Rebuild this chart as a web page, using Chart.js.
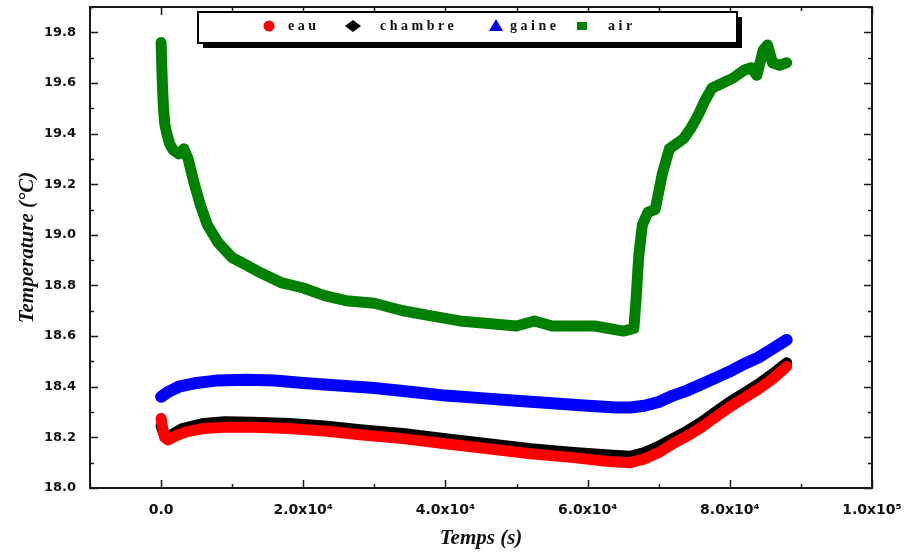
<!DOCTYPE html>
<html>
<head>
<meta charset="utf-8">
<title>Temperature</title>
<script src="https://cdn.jsdelivr.net/npm/chart.js@4.4.1/dist/chart.umd.min.js"></script>
<style>
  html, body { margin: 0; padding: 0; background: #fff; }
  canvas { display: block; }
</style>
</head>
<body>
<canvas id="temp-chart" width="904" height="555"></canvas>
<script>
// --- Series data (time in s, temperature in °C) ---
const seriesNames = ['eau', 'chambre', 'gaine', 'air'];
const seriesColors = ['#ff0000', '#000000', '#0000ff', '#008000'];

const eauTime = [0, 200, 500, 1000, 2000, 3500, 6000, 9000, 13000, 18000, 23000, 28000, 34000, 40000, 46000, 52000, 58000, 63000, 66000, 68000, 70000, 72000, 74000, 76000, 78000, 80000, 82000, 84000, 86000, 88000];
const eauTemp = [18.275, 18.24, 18.20, 18.19, 18.205, 18.222, 18.235, 18.24, 18.24, 18.235, 18.225, 18.21, 18.195, 18.175, 18.155, 18.135, 18.12, 18.105, 18.10, 18.115, 18.14, 18.175, 18.205, 18.24, 18.28, 18.32, 18.355, 18.39, 18.43, 18.48];

const chambreTime = [0, 300, 800, 1500, 3000, 6000, 9000, 13000, 18000, 23000, 28000, 34000, 40000, 46000, 52000, 58000, 63000, 66000, 68000, 70000, 72000, 74000, 76000, 78000, 80000, 82000, 84000, 86000, 88000];
const chambreTemp = [18.245, 18.22, 18.195, 18.21, 18.235, 18.255, 18.262, 18.26, 18.255, 18.245, 18.23, 18.215, 18.195, 18.175, 18.155, 18.14, 18.13, 18.125, 18.14, 18.165, 18.195, 18.225, 18.26, 18.30, 18.34, 18.375, 18.41, 18.45, 18.495];

const gaineTime = [0, 1000, 2500, 5000, 8000, 12000, 16000, 20000, 25000, 30000, 35000, 40000, 45000, 50000, 55000, 60000, 64000, 66000, 68000, 70000, 72000, 74000, 76000, 78000, 80000, 82000, 84000, 86000, 88000];
const gaineTemp = [18.36, 18.38, 18.40, 18.415, 18.425, 18.428, 18.425, 18.415, 18.405, 18.395, 18.38, 18.365, 18.355, 18.345, 18.335, 18.325, 18.318, 18.318, 18.325, 18.34, 18.365, 18.385, 18.41, 18.435, 18.46, 18.49, 18.515, 18.55, 18.585];

const airTime = [0, 150, 300, 500, 800, 1200, 1700, 2500, 3200, 3800, 4500, 5500, 6500, 8000, 10000, 12000, 14000, 17000, 20000, 23000, 26000, 30000, 34000, 38000, 42000, 46000, 50000, 52500, 55000, 58000, 61000, 63000, 65000, 66500, 66800, 67200, 67700, 68500, 69500, 70500, 71500, 72500, 73500, 74500, 75500, 76500, 77500, 79000, 80500, 82000, 83000, 83800, 84700, 85300, 86000, 87000, 88000];
const airTemp = [19.76, 19.62, 19.52, 19.44, 19.40, 19.36, 19.335, 19.32, 19.34, 19.30, 19.22, 19.12, 19.04, 18.97, 18.91, 18.88, 18.85, 18.81, 18.79, 18.76, 18.74, 18.73, 18.70, 18.68, 18.66, 18.65, 18.64, 18.66, 18.64, 18.64, 18.64, 18.63, 18.62, 18.63, 18.74, 18.92, 19.04, 19.09, 19.10, 19.24, 19.34, 19.36, 19.38, 19.42, 19.47, 19.53, 19.58, 19.60, 19.62, 19.65, 19.66, 19.63, 19.73, 19.75, 19.68, 19.67, 19.68];

// --- Axis ticks ---
const xTickValues = [0, 20000, 40000, 60000, 80000, 100000];
const xTickLabels = ['0.0', '2.0x10\u2074', '4.0x10\u2074', '6.0x10\u2074', '8.0x10\u2074', '1.0x10\u2075'];
const xMinorValues = [-10000, 10000, 30000, 50000, 70000, 90000];
const yTickValues = [18.0, 18.2, 18.4, 18.6, 18.8, 19.0, 19.2, 19.4, 19.6, 19.8];
const yTickLabels = ['18.0', '18.2', '18.4', '18.6', '18.8', '19.0', '19.2', '19.4', '19.6', '19.8'];
const yMinorValues = [18.1, 18.3, 18.5, 18.7, 18.9, 19.1, 19.3, 19.5, 19.7, 19.9];

const toPoints = (times, temps) => times.map((t, i) => ({ x: t, y: temps[i] }));

const seriesData = [
    toPoints(eauTime, eauTemp),
    toPoints(chambreTime, chambreTemp),
    toPoints(gaineTime, gaineTemp),
    toPoints(airTime, airTemp)
];
const lineWidths = [11, 11, 12, 11];

// Frame around the plot area with inward ticks on all four sides
const framePlugin = {
    id: 'frame',
    afterDatasetsDraw(chart) {
        const { ctx, chartArea: a, scales } = chart;
        const xs = scales.x, ys = scales.y;
        ctx.save();
        ctx.strokeStyle = '#1a1a1a';
        ctx.lineWidth = 1.5;
        ctx.beginPath();
        const tick = (vals, len) => {
            vals.forEach(v => {
                const px = Math.round(xs.getPixelForValue(v)) + 0.5;
                ctx.moveTo(px, a.bottom); ctx.lineTo(px, a.bottom - len);
                ctx.moveTo(px, a.top); ctx.lineTo(px, a.top + len);
            });
        };
        const tickY = (vals, len) => {
            vals.forEach(v => {
                const py = Math.round(ys.getPixelForValue(v)) + 0.5;
                ctx.moveTo(a.left, py); ctx.lineTo(a.left + len, py);
                ctx.moveTo(a.right, py); ctx.lineTo(a.right - len, py);
            });
        };
        tick(xTickValues, 8);
        tick(xMinorValues, 4);
        tickY(yTickValues, 8);
        tickY(yMinorValues, 4);
        ctx.stroke();
        ctx.lineWidth = 2;
        ctx.strokeRect(a.left, a.top, a.right - a.left, a.bottom - a.top);
        ctx.restore();
    }
};

// Boxed legend with drop shadow, sitting inside the plot area
const boxLegendPlugin = {
    id: 'boxLegend',
    afterDraw(chart) {
        const { ctx } = chart;
        const box = { x: 198, y: 12, w: 539, h: 31 };
        ctx.save();
        ctx.fillStyle = '#000';
        ctx.fillRect(box.x + 5, box.y + 5, box.w, box.h);
        ctx.fillStyle = '#fff';
        ctx.fillRect(box.x, box.y, box.w, box.h);
        ctx.strokeStyle = '#000';
        ctx.lineWidth = 2;
        ctx.strokeRect(box.x, box.y, box.w, box.h);

        const cy = box.y + 14;
        const markerX = [269, 353, 496, 582];
        const textX = [288, 380, 510, 608];
        chart.data.datasets.forEach((ds, i) => {
            const mx = markerX[i];
            ctx.fillStyle = ds.borderColor;
            ctx.beginPath();
            if (i === 0) {
                ctx.arc(mx, cy, 5.5, 0, Math.PI * 2);
            } else if (i === 1) {
                ctx.moveTo(mx - 8, cy); ctx.lineTo(mx - 4, cy - 3); ctx.lineTo(mx, cy - 6);
                ctx.lineTo(mx + 4, cy - 3); ctx.lineTo(mx + 8, cy); ctx.lineTo(mx + 4, cy + 3);
                ctx.lineTo(mx, cy + 6); ctx.lineTo(mx - 4, cy + 3); ctx.closePath();
            } else if (i === 2) {
                ctx.moveTo(mx, cy - 7); ctx.lineTo(mx + 7, cy + 5); ctx.lineTo(mx - 7, cy + 5); ctx.closePath();
            } else {
                ctx.rect(mx - 5, cy - 4, 10, 8);
            }
            ctx.fill();

            ctx.fillStyle = '#111';
            ctx.font = 'bold 14px "Liberation Serif"';
            ctx.letterSpacing = '3.5px';
            ctx.textBaseline = 'middle';
            ctx.textAlign = 'left';
            ctx.fillText(ds.label, textX[i], cy);
        });
        ctx.restore();
    }
};

const ctx = document.getElementById('temp-chart');

new Chart(ctx, {
    type: 'line',
    data: {
        datasets: seriesNames.map((name, i) => ({
            label: name,
            data: seriesData[i],
            borderColor: seriesColors[i],
            backgroundColor: seriesColors[i],
            borderWidth: lineWidths[i],
            borderCapStyle: 'round',
            borderJoinStyle: 'round',
            pointRadius: 0,
            tension: 0,
            fill: false
        }))
    },
    options: {
        responsive: false,
        animation: false,
        devicePixelRatio: 1,
        layout: { padding: { top: 7, right: 32, left: 0, bottom: 0 } },
        plugins: {
            legend: { display: false },
            tooltip: { enabled: false }
        },
        scales: {
            x: {
                type: 'linear',
                min: -10000,
                max: 100000,
                grid: { display: false },
                border: { display: false },
                afterBuildTicks: s => { s.ticks = xTickValues.map(v => ({ value: v })); },
                afterFit: s => { s.height = 67; s.paddingLeft = 0; s.paddingRight = 0; },
                ticks: {
                    autoSkip: false,
                    maxRotation: 0,
                    padding: 6,
                    color: '#111',
                    font: { family: '"DejaVu Sans"', weight: 'bold', size: 14 },
                    callback: v => xTickLabels[xTickValues.indexOf(v)]
                },
                title: {
                    display: true,
                    text: 'Temps (s)',
                    color: '#111',
                    padding: { top: 0, bottom: 4 },
                    font: { family: '"Liberation Serif"', weight: 'bold', style: 'italic', size: 21 }
                }
            },
            y: {
                type: 'linear',
                min: 18.0,
                max: 19.9,
                grid: { display: false },
                border: { display: false },
                afterBuildTicks: s => { s.ticks = yTickValues.map(v => ({ value: v })); },
                afterFit: s => { s.width = 90; s.paddingTop = 0; s.paddingBottom = 0; },
                ticks: {
                    autoSkip: false,
                    padding: 6,
                    color: '#111',
                    font: { family: '"DejaVu Sans"', weight: 'bold', size: 13 },
                    callback: v => yTickLabels[yTickValues.findIndex(t => Math.abs(t - v) < 1e-6)]
                },
                title: {
                    display: true,
                    text: 'Temperature (°C)',
                    color: '#111',
                    padding: { top: 15, bottom: 0 },
                    font: { family: '"Liberation Serif"', weight: 'bold', style: 'italic', size: 21 }
                }
            }
        }
    },
    plugins: [framePlugin, boxLegendPlugin]
});
</script>
</body>
</html>
